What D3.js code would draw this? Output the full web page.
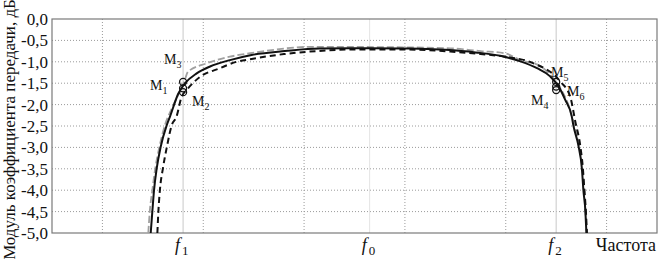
<!DOCTYPE html>
<html>
<head>
<meta charset="utf-8">
<script src="https://cdn.jsdelivr.net/npm/d3@7"></script>
<style>
  body { margin: 0; background: #fff; }
  svg text { font-family: "Liberation Serif", "Times New Roman", serif !important; }
</style>
</head>
<body>
<svg></svg>
<script>
// Y ticks (dB)
const yTicks = [0, -0.5, -1, -1.5, -2, -2.5, -3, -3.5, -4, -4.5, -5];
// vertical grid positions (frequency units)
const xGrid = [1, 3, 5, 7, 9, 11];

// marker frequencies
const freqMarks = [
  { name: "1", f: 2.6 },
  { name: "0", f: 6.3 },
  { name: "2", f: 10.0 }
];

// solid black curve
const solidF  = [1.958, 1.99, 2.024, 2.077, 2.157, 2.276, 2.34, 2.506, 2.64, 2.87, 3.135, 3.53, 3.96, 4.62, 5.3, 6.3, 7.1, 7.8, 8.4, 8.89, 9.29, 9.62, 9.88, 10.05, 10.18, 10.31, 10.34, 10.44, 10.51, 10.54, 10.58, 10.6];
const solidDb = [-5.0, -4.5, -4.0, -3.49, -2.98, -2.48, -2.28, -1.74, -1.50, -1.27, -1.11, -0.96, -0.84, -0.75, -0.69, -0.685, -0.69, -0.72, -0.78, -0.86, -0.99, -1.15, -1.34, -1.58, -1.89, -2.28, -2.48, -2.95, -3.49, -4.0, -4.5, -5.0];

// dashed black curve
const dashF  = [2.09, 2.11, 2.14, 2.20, 2.28, 2.375, 2.47, 2.57, 2.67, 2.94, 3.33, 3.66, 3.93, 4.6, 5.25, 6.1, 6.8, 7.9, 8.5, 8.98, 9.54, 10.08, 10.28, 10.38, 10.48, 10.53, 10.56, 10.59, 10.61];
const dashDb = [-5.0, -4.5, -4.0, -3.49, -2.98, -2.48, -2.28, -1.82, -1.66, -1.35, -1.15, -1.0, -0.94, -0.82, -0.75, -0.71, -0.71, -0.76, -0.82, -0.88, -1.03, -1.46, -1.82, -2.40, -2.98, -3.49, -4.0, -4.5, -5.0];

// gray dashed curve
const grayF  = [1.91, 1.94, 1.99, 2.05, 2.13, 2.24, 2.38, 2.5, 2.62, 2.70, 3.07, 3.53, 3.93, 5.18, 6.8, 7.9, 8.5, 8.98, 9.29, 9.68, 9.94, 10.08, 10.24, 10.36, 10.46, 10.52, 10.56, 10.58, 10.61];
const grayDb = [-5.0, -4.49, -4.0, -3.48, -2.99, -2.48, -2.08, -1.78, -1.47, -1.23, -1.035, -0.88, -0.80, -0.65, -0.66, -0.685, -0.75, -0.80, -0.96, -1.10, -1.38, -1.61, -2.0, -2.48, -2.99, -3.48, -4.0, -4.5, -5.0];

// markers on the curves with their label positions
const markers = [
  { id: "3", f: 2.6, db: -1.47, lx: 164, ly: 64 },
  { id: "1", f: 2.6, db: -1.62, lx: 150, ly: 90 },
  { id: "2", f: 2.6, db: -1.71, lx: 192, ly: 106 },
  { id: "5", f: 10.0, db: -1.47, lx: 551, ly: 77 },
  { id: "4", f: 10.0, db: -1.58, lx: 531, ly: 105 },
  { id: "6", f: 10.0, db: -1.66, lx: 567, ly: 96 }
];

const width = 658, height = 259;
const margin = { top: 19, right: 1, bottom: 26, left: 52 };

const svg = d3.select("svg").attr("width", width).attr("height", height);

const x = d3.scaleLinear().domain([0, 12]).range([margin.left, width - margin.right]);
const y = d3.scaleLinear().domain([-5, 0]).range([height - margin.bottom, margin.top]);

// horizontal grid
svg.append("g")
  .selectAll("line")
  .data(yTicks.filter(d => d !== 0 && d !== -5))
  .join("line")
  .attr("x1", x(0)).attr("x2", x(12))
  .attr("y1", d => y(d)).attr("y2", d => y(d))
  .attr("stroke", "#9a9a9a")
  .attr("stroke-width", 1)
  .attr("stroke-dasharray", "1,2");

// vertical grid
svg.append("g")
  .selectAll("line")
  .data(xGrid)
  .join("line")
  .attr("x1", d => x(d)).attr("x2", d => x(d))
  .attr("y1", y(0)).attr("y2", y(-5))
  .attr("stroke", "#9a9a9a")
  .attr("stroke-width", 1)
  .attr("stroke-dasharray", "1,2");

// frequency marker lines
svg.append("g")
  .selectAll("line")
  .data(freqMarks)
  .join("line")
  .attr("x1", d => x(d.f)).attr("x2", d => x(d.f))
  .attr("y1", y(0)).attr("y2", y(-5))
  .attr("stroke", d => d.name === "0" ? "#e4e4e4" : "#c8c8c8")
  .attr("stroke-width", 1);

// frame
svg.append("rect")
  .attr("x", x(0)).attr("y", y(0))
  .attr("width", x(12) - x(0)).attr("height", y(-5) - y(0))
  .attr("fill", "none")
  .attr("stroke", "#7a7a7a")
  .attr("stroke-width", 1.2);

// y axis labels
const yAxis = d3.axisLeft(y)
  .tickValues(yTicks)
  .tickSize(0)
  .tickPadding(4)
  .tickFormat(d => d3.format(".1f")(d).replace(".", ",").replace("−", "-"));

svg.append("g")
  .attr("transform", `translate(${x(0)},0)`)
  .call(yAxis)
  .call(g => g.select(".domain").remove())
  .selectAll("text")
  .attr("font-size", 17)
  .attr("fill", "#111");

// y axis title
svg.append("text")
  .attr("transform", `translate(15, ${height / 2}) rotate(-90)`)
  .attr("text-anchor", "middle")
  .attr("font-size", 17)
  .attr("fill", "#111")
  .text("Модуль коэффициента передачи, дБ");

// curves
const line = d3.line()
  .x(d => x(d[0]))
  .y(d => y(d[1]))
  .curve(d3.curveMonotoneX);

const series = [
  { f: grayF, db: grayDb, color: "#a0a0a0", dash: "7,3", w: 1.8 },
  { f: dashF, db: dashDb, color: "#111", dash: "6,4", w: 2 },
  { f: solidF, db: solidDb, color: "#111", dash: null, w: 2 }
];

svg.append("g")
  .selectAll("path")
  .data(series)
  .join("path")
  .attr("d", s => line(d3.zip(s.f, s.db)))
  .attr("fill", "none")
  .attr("stroke", s => s.color)
  .attr("stroke-width", s => s.w)
  .attr("stroke-dasharray", s => s.dash);

// marker circles
svg.append("g")
  .selectAll("circle")
  .data(markers)
  .join("circle")
  .attr("cx", d => x(d.f))
  .attr("cy", d => y(d.db))
  .attr("r", 3.5)
  .attr("fill", "none")
  .attr("stroke", "#111")
  .attr("stroke-width", 1.3);

// marker labels
const mLabels = svg.append("g")
  .selectAll("text")
  .data(markers)
  .join("text")
  .attr("x", d => d.lx)
  .attr("y", d => d.ly)
  .attr("font-size", 14)
  .attr("fill", "#111");
mLabels.append("tspan").text("M");
mLabels.append("tspan").attr("font-size", 10).attr("dy", 4).text(d => d.id);

// frequency labels
const fLabels = svg.append("g")
  .selectAll("text")
  .data(freqMarks)
  .join("text")
  .attr("x", d => x(d.f) - 8)
  .attr("y", 251)
  .attr("font-size", 18)
  .attr("fill", "#111");
fLabels.append("tspan").attr("font-style", "italic").text("f");
fLabels.append("tspan").attr("font-size", 13).attr("dy", 4).attr("dx", 2).text(d => d.name);

svg.append("text")
  .attr("x", 656)
  .attr("y", 251)
  .attr("text-anchor", "end")
  .attr("font-size", 18)
  .attr("fill", "#111")
  .text("Частота");
</script>
</body>
</html>
